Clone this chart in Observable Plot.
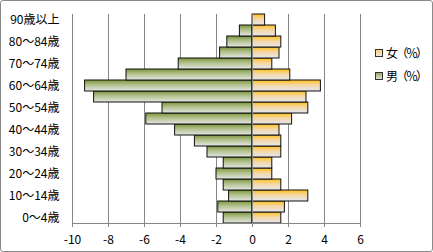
<!DOCTYPE html>
<html>
<head>
<meta charset="utf-8">
<script src="https://cdn.jsdelivr.net/npm/d3@7"></script>
<script src="https://cdn.jsdelivr.net/npm/@observablehq/plot@0.6"></script>
<style>
  html, body { margin: 0; padding: 0; background: #fff; }
  #wrap { position: relative; width: 433px; height: 252px; overflow: hidden; font-family: 'Noto Sans CJK JP', sans-serif; }
  #wrap svg.plot { position: absolute; left: 0; top: 0; }
  #border { position: absolute; left: 0; top: 0; width: 433px; height: 252px; box-sizing: border-box; border: 1px solid #8a8a8a; border-radius: 3px; pointer-events: none; }
  .leg { position: absolute; left: 375px; font-size: 12px; line-height: 14px; color: #000; display: flex; align-items: center; white-space: nowrap; letter-spacing: -2px; }
  .sw { width: 6px; height: 6px; border: 1px solid #333; margin-right: 3px; }
</style>
</head>
<body>
<div id="wrap">
  <svg width="0" height="0" style="position:absolute">
    <defs>
      <linearGradient id="gF" x1="0" y1="0" x2="0" y2="1">
        <stop offset="0" stop-color="#ffbf1a"/>
        <stop offset="0.45" stop-color="#f4d7a4"/>
        <stop offset="1" stop-color="#e6e6f0"/>
      </linearGradient>
      <linearGradient id="gM" x1="0" y1="0" x2="0" y2="1">
        <stop offset="0" stop-color="#7b953a"/>
        <stop offset="0.45" stop-color="#b4c290"/>
        <stop offset="1" stop-color="#e4e7e4"/>
      </linearGradient>
    </defs>
  </svg>
  <div class="leg" style="top:46px"><div class="sw" style="background:linear-gradient(#ffcf6a,#eee6e0)"></div>女（％）</div>
  <div class="leg" style="top:69px"><div class="sw" style="background:linear-gradient(#95a865,#dfe3dc)"></div>男（％）</div>
  <div id="border"></div>
</div>
<script>
const ages = ["0～4歳","5～9歳","10～14歳","15～19歳","20～24歳","25～29歳","30～34歳","35～39歳","40～44歳","45～49歳","50～54歳","55～59歳","60～64歳","65～69歳","70～74歳","75～79歳","80～84歳","85～89歳","90歳以上"];
const male = [-1.6, -1.9, -1.3, -1.6, -2.0, -1.6, -2.5, -3.2, -4.3, -5.9, -5.0, -8.8, -9.3, -7.0, -4.1, -1.8, -1.4, -0.7, 0];
const female = [1.6, 1.8, 3.1, 1.6, 1.1, 1.1, 1.6, 1.6, 1.5, 2.2, 3.1, 3.0, 3.8, 2.1, 1.1, 1.5, 1.6, 1.3, 0.7];
const xTicks = [-10, -8, -6, -4, -2, 0, 2, 4, 6];
const ageLabels = ages.filter((d, i) => i % 2 === 0);

const maleRows = ages.map((a, i) => ({age: a, value: male[i]})).filter(d => d.value !== 0);
const femaleRows = ages.map((a, i) => ({age: a, value: female[i]})).filter(d => d.value !== 0);

const chart = Plot.plot({
  width: 433, height: 252,
  marginLeft: 72, marginRight: 73, marginTop: 14, marginBottom: 29,
  x: {domain: [-10, 6], label: null},
  y: {domain: ages.slice().reverse(), padding: 0, label: null},
  style: {fontFamily: "'Noto Sans CJK JP', sans-serif", fontSize: "12px", background: "transparent", color: "#000"},
  marks: [
    Plot.ruleX(xTicks, {stroke: "#868686", strokeOpacity: 1}),
    Plot.barX(maleRows, {x: "value", y: "age", fill: "url(#gM)", stroke: "#111", strokeWidth: 1, insetTop: 0, insetBottom: 0}),
    Plot.barX(femaleRows, {x: "value", y: "age", fill: "url(#gF)", stroke: "#111", strokeWidth: 1, insetTop: 0, insetBottom: 0}),
    Plot.ruleX([0], {stroke: "#868686", strokeOpacity: 1}),
    Plot.frame({anchor: "bottom", stroke: "#868686", strokeOpacity: 1}),
    Plot.axisX({ticks: xTicks, tickSize: 4, tickPadding: 8, tickFormat: d => String(d), stroke: "#868686", fill: "#000", label: null, strokeOpacity: 1}),
    Plot.axisY({ticks: ageLabels, tickSize: 0, tickPadding: 13, fill: "#000", label: null})
  ]
});
document.getElementById("wrap").insertBefore(chart, document.getElementById("border"));
</script>
</body>
</html>
